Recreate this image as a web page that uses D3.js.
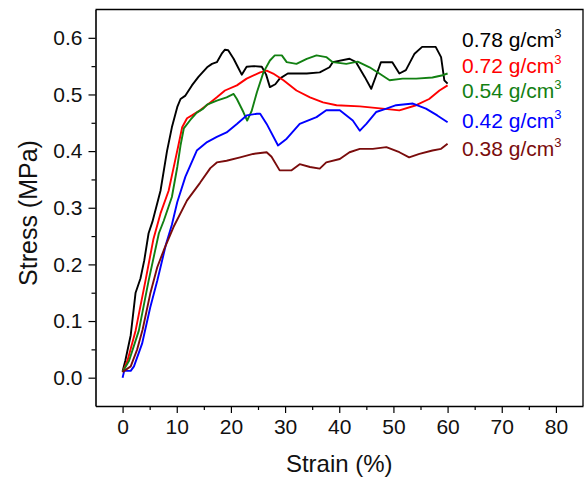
<!DOCTYPE html>
<html>
<head>
<meta charset="utf-8">
<script src="https://cdn.jsdelivr.net/npm/d3@7"></script>
<style>
  html, body { margin: 0; padding: 0; background: #fff; }
  svg { display: block; }
</style>
</head>
<body>
<script>
/* stress-strain curves as [strain %, stress MPa] */
var d078 = [[0,0.011],[0.5,0.03],[1.5,0.075],[2.4,0.15],[3.3,0.175],[4.0,0.207],[4.8,0.255],[5.5,0.275],
  [7.0,0.33],[8.2,0.40],[9.1,0.442],[10.1,0.478],[10.7,0.492],[11.6,0.498],[12.8,0.516],[14.0,0.531],
  [15.6,0.548],[16.5,0.554],[17.4,0.557],[18.3,0.572],[18.9,0.579],[19.5,0.578],[20.5,0.563],[21.3,0.548],
  [22.0,0.535],[22.9,0.549],[24.2,0.550],[25.7,0.549],[26.5,0.535],[27.2,0.513],[28.2,0.518],[29.0,0.528],
  [30.5,0.537],[34.0,0.537],[36.4,0.539],[38.2,0.548],[38.8,0.557],[41.9,0.563],[43.1,0.557],[44.7,0.531],
  [45.9,0.510],[46.8,0.533],[47.7,0.557],[49.8,0.557],[51.1,0.537],[52.3,0.543],[53.9,0.572],[55.3,0.584],
  [57.8,0.584],[58.8,0.566],[59.4,0.525],[60.0,0.519]];

var d072 = [[0,0.01],[0.9,0.03],[2.4,0.083],[4.2,0.17],[5.7,0.245],[7.0,0.29],[8.5,0.33],[9.4,0.37],
  [10.3,0.41],[11.0,0.442],[11.9,0.458],[12.8,0.463],[14.3,0.472],[16.2,0.486],[17.4,0.495],[18.9,0.507],
  [21.1,0.516],[22.9,0.528],[25.4,0.539],[26.6,0.542],[27.8,0.537],[29.7,0.525],[32.1,0.507],[34.6,0.495],
  [37.0,0.486],[39.5,0.481],[43.8,0.479],[48.0,0.475],[51.1,0.472],[54.2,0.481],[56.6,0.492],[58.5,0.507],
  [60.0,0.516]];

var d054 = [[0,0.01],[1.2,0.03],[3.0,0.083],[4.8,0.171],[6.7,0.255],[7.6,0.277],[9.1,0.319],[10.1,0.372],
  [10.7,0.41],[11.3,0.44],[12.5,0.455],[13.7,0.468],[14.9,0.475],[15.6,0.482],[17.4,0.489],[19.2,0.495],
  [20.5,0.501],[21.1,0.492],[22.3,0.469],[23.0,0.454],[23.8,0.47],[24.8,0.504],[26.0,0.539],[27.2,0.560],
  [28.1,0.569],[29.4,0.569],[30.3,0.557],[32.1,0.554],[34.0,0.563],[35.8,0.569],[37.6,0.566],[38.8,0.557],
  [41.3,0.554],[43.4,0.558],[45.6,0.548],[47.4,0.537],[49.3,0.525],[51.7,0.528],[54.2,0.528],[57.2,0.530],
  [59.1,0.534],[60.0,0.537]];

var d042 = [[0,0.0],[0.3,0.012],[1.5,0.012],[2.1,0.02],[3.6,0.06],[5.1,0.124],[6.4,0.171],[7.0,0.195],
  [8.0,0.235],[9.1,0.27],[10.1,0.31],[11.6,0.355],[13.7,0.401],[15.6,0.416],[17.4,0.425],[19.2,0.433],
  [21.1,0.448],[22.9,0.463],[24.8,0.466],[25.4,0.466],[26.6,0.448],[28.7,0.410],[30.3,0.422],[32.7,0.448],
  [35.8,0.460],[37.6,0.472],[40.1,0.472],[42.5,0.454],[43.8,0.436],[45.0,0.448],[46.8,0.469],[48.7,0.475],
  [50.5,0.481],[53.6,0.484],[56.0,0.475],[58.1,0.463],[60.0,0.451]];

var d038 = [[0,0.01],[1.5,0.02],[2.7,0.05],[3.7,0.085],[5.1,0.148],[6.4,0.195],[7.6,0.225],[9.4,0.266],
  [11.9,0.313],[14.3,0.344],[16.2,0.37],[17.4,0.38],[19.2,0.383],[21.7,0.389],[24.1,0.395],[26.6,0.398],
  [27.5,0.39],[29.0,0.366],[31.2,0.366],[32.7,0.377],[34.6,0.372],[36.4,0.369],[37.6,0.380],[40.1,0.386],
  [41.9,0.398],[43.8,0.404],[46.2,0.404],[48.7,0.407],[51.1,0.398],[52.9,0.389],[54.8,0.395],[57.2,0.401],
  [58.8,0.404],[60.0,0.413]];

var seriesNames = ['0.78 g/cm', '0.72 g/cm', '0.54 g/cm', '0.42 g/cm', '0.38 g/cm'];
var seriesData = [d078, d072, d054, d042, d038];
var seriesColors = ['#000000', '#ff0000', '#128012', '#0000ff', '#7a0c0c'];

var xTicks = [0, 10, 20, 30, 40, 50, 60, 70, 80];
var xMinor = [5, 15, 25, 35, 45, 55, 65, 75];
var yTicks = [0.0, 0.1, 0.2, 0.3, 0.4, 0.5, 0.6];
var yMinor = [0.05, 0.15, 0.25, 0.35, 0.45, 0.55];

drawChart();

function drawChart() {
  var w = 584,
      h = 478;

  var plotLeft = 95.5,
      plotRight = 583,
      plotTop = 9.5,
      plotBottom = 406;

  var x = d3.scaleLinear().domain([-5, 85]).range([plotLeft, plotRight]);
  var y = d3.scaleLinear().domain([-0.05, 0.65]).range([plotBottom, plotTop]);

  var svg = d3.select('body').append('svg')
    .attr('width', w)
    .attr('height', h)
    .style('font-family', 'Liberation Sans, Arial, sans-serif');

  // frame (top and right)
  svg.append('path')
    .attr('d', 'M' + plotLeft + ',' + plotTop + 'H' + plotRight + 'V' + plotBottom)
    .attr('fill', 'none')
    .attr('stroke', '#000')
    .attr('stroke-width', 1.3);

  // curves
  var line = d3.line()
    .x(function(d) { return x(d[0]); })
    .y(function(d) { return y(d[1]); });

  svg.append('g').selectAll('.curve')
    .data(seriesData)
    .enter()
    .append('path')
      .attr('d', line)
      .attr('fill', 'none')
      .attr('stroke', function(d, i) { return seriesColors[i]; })
      .attr('stroke-width', 1.9)
      .attr('stroke-linejoin', 'round');

  // axes
  var xAxis = svg.append('g')
    .attr('transform', 'translate(0,' + plotBottom + ')')
    .call(d3.axisBottom(x).tickValues(xTicks).tickSize(7).tickSizeOuter(0).tickPadding(6)
      .tickFormat(d3.format('d')));

  svg.append('g')
    .attr('transform', 'translate(0,' + plotBottom + ')')
    .call(d3.axisBottom(x).tickValues(xMinor).tickSize(4).tickSizeOuter(0).tickFormat(''))
    .select('.domain').remove();

  var yAxis = svg.append('g')
    .attr('transform', 'translate(' + plotLeft + ',0)')
    .call(d3.axisLeft(y).tickValues(yTicks).tickSize(7).tickSizeOuter(0).tickPadding(6)
      .tickFormat(d3.format('.1f')));

  svg.append('g')
    .attr('transform', 'translate(' + plotLeft + ',0)')
    .call(d3.axisLeft(y).tickValues(yMinor).tickSize(4).tickSizeOuter(0).tickFormat(''))
    .select('.domain').remove();

  svg.selectAll('.domain').attr('stroke-width', 1.6);
  svg.selectAll('.tick line').attr('stroke-width', 1.2);

  xAxis.selectAll('text')
    .style('font-size', '21px')
    .attr('fill', '#111');
  yAxis.selectAll('text')
    .style('font-size', '21px')
    .attr('fill', '#111');

  // axis titles
  svg.append('text')
    .text('Strain (%)')
    .attr('x', (plotLeft + plotRight) / 2)
    .attr('y', 472)
    .attr('text-anchor', 'middle')
    .style('font-size', '24px')
    .attr('fill', '#111');

  svg.append('text')
    .text('Stress (MPa)')
    .attr('transform', 'translate(37,213) rotate(-90)')
    .attr('text-anchor', 'middle')
    .style('font-size', '25px')
    .attr('fill', '#111');

  // legend labels
  var legendY = [47, 72.5, 97.5, 128, 156];

  var legend = svg.append('g').selectAll('.legend')
    .data(seriesNames)
    .enter()
    .append('text')
      .attr('x', 462)
      .attr('y', function(d, i) { return legendY[i]; })
      .attr('fill', function(d, i) { return seriesColors[i]; })
      .style('font-size', '21px');

  legend.append('tspan').text(function(d) { return d; });
  legend.append('tspan')
    .text('3')
    .attr('dy', -9)
    .style('font-size', '13px');
}
</script>
</body>
</html>
